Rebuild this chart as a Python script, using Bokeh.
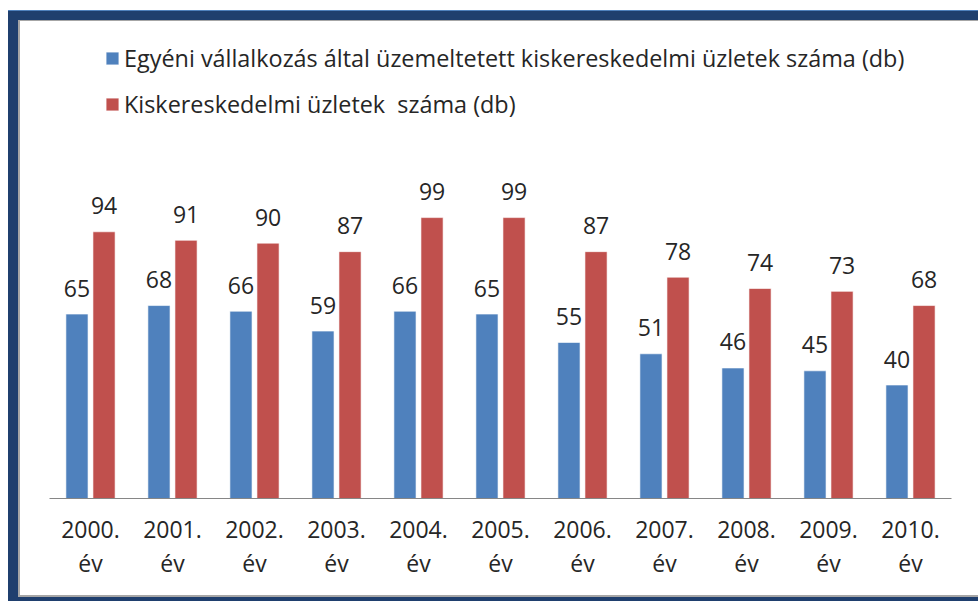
import numpy as np
from bokeh.plotting import figure
from bokeh.models import ColumnDataSource, Range1d, FixedTicker, Legend, LegendItem
from bokeh.core.properties import value
from bokeh.embed import file_html
from bokeh.resources import INLINE

years = ["2000.\név", "2001.\név", "2002.\név", "2003.\név", "2004.\név", "2005.\név",
         "2006.\név", "2007.\név", "2008.\név", "2009.\név", "2010.\név"]
egyeni = [65, 68, 66, 59, 66, 65, 55, 51, 46, 45, 40]
kisker = [94, 91, 90, 87, 99, 99, 87, 78, 74, 73, 68]
series_names = ["Egyéni vállalkozás által üzemeltetett kiskereskedelmi üzletek száma (db)",
                "Kiskereskedelmi üzletek  száma (db)"]

BLUE = "#4F81BD"
RED = "#C0504D"
TEXT = "#262626"
FONT = "Open Sans"
DARK = "#1F3F6E"
LIGHT = "#4F81BD"
GRAY = "#A6A6A6"

W, H = 970, 591
shadow = ", ".join([
    f"inset 0 1px 0 0 {LIGHT}",
    f"inset 10px 10px 0 0 {DARK}",
    f"inset 0 -4px 0 0 {DARK}",
    f"inset 12px 11px 0 0 {GRAY}",
    f"inset 0 -6px 0 0 {GRAY}",
])
p = figure(width=W, height=H, output_backend="svg", toolbar_location=None,
           x_range=Range1d(0, len(years)), y_range=Range1d(0, 166.7),
           min_border_left=41, min_border_right=27, min_border_top=15, min_border_bottom=103,
           styles={"margin-left": "8px", "margin-top": "10px", "background-color": "white",
                   "box-shadow": shadow})
p.outline_line_color = None
p.grid.visible = False
p.yaxis.visible = False
p.background_fill_color = "white"
p.background_fill_alpha = 0
p.border_fill_alpha = 0

xc = np.arange(len(years)) + 0.5
src = ColumnDataSource(dict(xb=xc - 0.165, xr=xc + 0.165, b=egyeni, r=kisker,
                            bl=[str(v) for v in egyeni], rl=[str(v) for v in kisker]))

rb = p.vbar(x="xb", top="b", width=0.27, source=src, fill_color=BLUE, line_color="white",
            line_alpha=0.6, line_width=1)
rr = p.vbar(x="xr", top="r", width=0.27, source=src, fill_color=RED, line_color="white",
            line_alpha=0.6, line_width=1)

p.text(x="xb", y="b", text="bl", source=src, text_align="center", text_baseline="alphabetic",
       y_offset=-26, text_font=value(FONT), text_font_size="23px", text_color=TEXT)
p.text(x="xr", y="r", text="rl", source=src, text_align="center", text_baseline="alphabetic",
       y_offset=-26, text_font=value(FONT), text_font_size="23px", text_color=TEXT)

ax = p.xaxis[0]
ax.ticker = FixedTicker(ticks=list(xc))
ax.major_label_overrides = {float(x): lab for x, lab in zip(xc, years)}
ax.major_tick_line_color = None
ax.minor_tick_line_color = None
ax.axis_line_color = "#868686"
ax.axis_line_width = 1
ax.major_label_text_font = FONT
ax.major_label_text_font_size = "23px"
ax.major_label_text_color = TEXT
ax.major_label_text_line_height = 1.07
ax.major_label_standoff = 8

legend = Legend(items=[LegendItem(label=series_names[0], renderers=[rb]),
                       LegendItem(label=series_names[1], renderers=[rr])],
                location=(55, 378), orientation="vertical",
                glyph_width=16, glyph_height=16, label_height=32, spacing=14,
                padding=0, margin=0, label_standoff=4,
                label_text_font=FONT, label_text_font_size="23.4px", label_text_color=TEXT,
                border_line_alpha=0, background_fill_alpha=0)
p.add_layout(legend, "center")

open("out.html", "w").write(file_html(p, INLINE))
